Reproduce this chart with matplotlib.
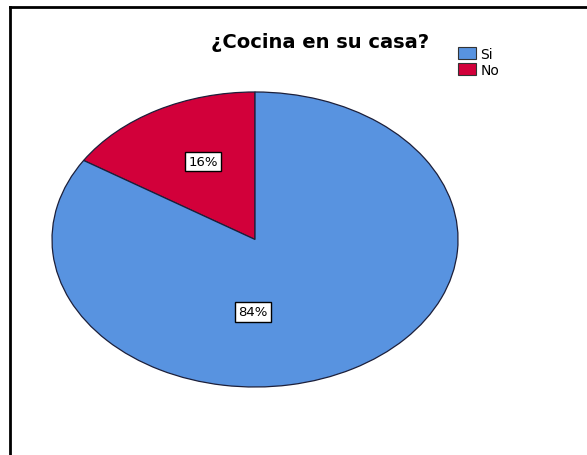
import matplotlib.pyplot as plt
from matplotlib.lines import Line2D
from matplotlib.patches import Patch

# answers to "¿Cocina en su casa?"
categories = ["Si", "No"]
percents = [84, 16]
colors = {"Si": "#5893e0", "No": "#d2003a"}

# draw order: "No" first so it sits left of 12 o'clock going counterclockwise
draw_order = ["No", "Si"]
values = [percents[categories.index(c)] for c in draw_order]

fig = plt.figure(figsize=(5.87, 4.56), dpi=100)
ax = fig.add_axes([0.0886, 0.1491, 0.6917, 0.647])

wedges, texts, autotexts = ax.pie(
    values,
    colors=[colors[c] for c in draw_order],
    startangle=90,
    counterclock=True,
    autopct="%d%%",
    pctdistance=0.6,
    wedgeprops=dict(edgecolor="#1c1f3a", linewidth=0.9),
    textprops=dict(fontsize=9.5, family="DejaVu Sans"),
)
ax.set_aspect("auto")
ax.set_xlim(-1.0, 1.0)
ax.set_ylim(-1.0, 1.0)
ax.axis("off")

# label boxes, the big slice's label sits near the centre below
label_pos = {"No": (-0.256, 0.53), "Si": (-0.01, -0.49)}
for c, t in zip(draw_order, autotexts):
    t.set_position(label_pos[c])
    t.set_ha("center")
    t.set_va("center")
    t.set_bbox(dict(facecolor="white", edgecolor="black", linewidth=1.0, boxstyle="square,pad=0.25"))

fig.text(320 / 587, 1 - 42 / 456, "¿Cocina en su casa?", ha="center", va="center",
         fontsize=14, fontweight="bold", family="DejaVu Sans")

handles = [Patch(facecolor=colors[c], edgecolor="#333333", linewidth=0.8) for c in categories]
fig.legend(handles, categories, loc="upper left", bbox_to_anchor=(458 / 587, 1 - 48 / 456),
           frameon=False, fontsize=10, handlelength=1.3, handleheight=1.0,
           handletextpad=0.3, labelspacing=0.12, borderaxespad=0, borderpad=0)

# outer frame: top and left edges only
fx, fy = 9.5 / 587, 1 - 7.5 / 456
fig.add_artist(Line2D([fx, fx], [0, fy], color="black", linewidth=2, transform=fig.transFigure))
fig.add_artist(Line2D([fx, 1], [fy, fy], color="black", linewidth=2, transform=fig.transFigure))

fig.savefig("out.png", dpi=100)
